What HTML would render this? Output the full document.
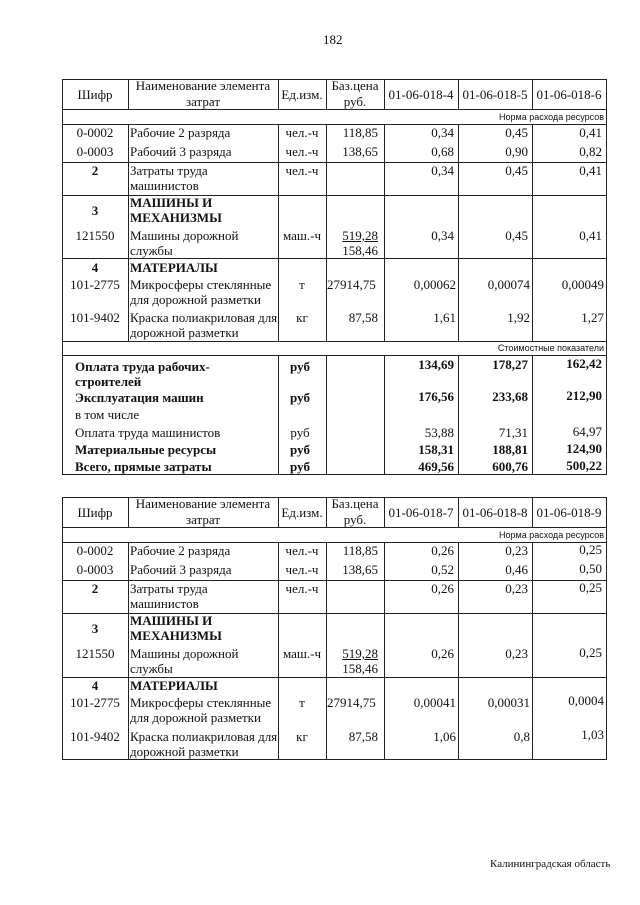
<!DOCTYPE html>
<html><head><meta charset="utf-8">
<style>
html,body{margin:0;padding:0;background:#fff;}
body{width:640px;height:905px;position:relative;overflow:hidden;font-family:"Liberation Serif","DejaVu Serif",serif;color:#111;}
.h{position:absolute;height:1px;background:#222;}
.v{position:absolute;width:1px;background:#222;}
.t{position:absolute;font-size:13px;line-height:16px;white-space:nowrap;}
.c{transform:translateX(-50%);}
.b{font-weight:bold;}
.s{position:absolute;font-family:"Liberation Sans",sans-serif;font-size:9px;line-height:12px;white-space:nowrap;}
.u{text-decoration:underline;}
</style></head><body>
<div class="t" style="left:323px;top:32px;font-size:13px">182</div>

<!-- TABLE 1 lines -->
<div class="h" style="left:62px;width:545px;top:79px"></div>
<div class="h" style="left:62px;width:545px;top:109px"></div>
<div class="h" style="left:62px;width:545px;top:124px"></div>
<div class="h" style="left:62px;width:545px;top:162px"></div>
<div class="h" style="left:62px;width:545px;top:195px"></div>
<div class="h" style="left:62px;width:545px;top:258px"></div>
<div class="h" style="left:62px;width:545px;top:341px"></div>
<div class="h" style="left:62px;width:545px;top:355px"></div>
<div class="h" style="left:62px;width:545px;top:474px"></div>
<div class="v" style="left:62px;top:79px;height:396px"></div>
<div class="v" style="left:606px;top:79px;height:396px"></div>
<div class="v" style="left:128px;top:79px;height:30px"></div>
<div class="v" style="left:128px;top:124px;height:217px"></div>
<div class="v" style="left:278px;top:79px;height:30px"></div><div class="v" style="left:278px;top:124px;height:217px"></div><div class="v" style="left:278px;top:355px;height:119px"></div>
<div class="v" style="left:326px;top:79px;height:30px"></div><div class="v" style="left:326px;top:124px;height:217px"></div><div class="v" style="left:326px;top:355px;height:119px"></div>
<div class="v" style="left:384px;top:79px;height:30px"></div><div class="v" style="left:384px;top:124px;height:217px"></div><div class="v" style="left:384px;top:355px;height:119px"></div>
<div class="v" style="left:458px;top:79px;height:30px"></div><div class="v" style="left:458px;top:124px;height:217px"></div><div class="v" style="left:458px;top:355px;height:119px"></div>
<div class="v" style="left:532px;top:79px;height:30px"></div><div class="v" style="left:532px;top:124px;height:217px"></div><div class="v" style="left:532px;top:355px;height:119px"></div>

<!-- TABLE 1 header -->
<div class="t c" style="left:95px;top:87px">Шифр</div>
<div class="t c" style="left:203px;top:78px">Наименование элемента</div>
<div class="t c" style="left:203px;top:94px">затрат</div>
<div class="t c" style="left:302px;top:87px">Ед.изм.</div>
<div class="t c" style="left:355px;top:78px">Баз.цена</div>
<div class="t c" style="left:355px;top:94px">руб.</div>
<div class="t c" style="left:421px;top:87px">01-06-018-4</div>
<div class="t c" style="left:495px;top:87px">01-06-018-5</div>
<div class="t c" style="left:569px;top:87px">01-06-018-6</div>
<div class="s" style="right:36px;top:111px">Норма расхода ресурсов</div>

<div class="t c" style="left:95px;top:125px">0-0002</div>
<div class="t" style="left:130px;top:125px">Рабочие 2 разряда</div>
<div class="t c" style="left:302px;top:125px">чел.-ч</div>
<div class="t" style="right:262px;top:125px">118,85</div>
<div class="t" style="right:186px;top:125px">0,34</div>
<div class="t" style="right:112px;top:125px">0,45</div>
<div class="t" style="right:38px;top:125px">0,41</div>
<div class="t c" style="left:95px;top:144px">0-0003</div>
<div class="t" style="left:130px;top:144px">Рабочий 3 разряда</div>
<div class="t c" style="left:302px;top:144px">чел.-ч</div>
<div class="t" style="right:262px;top:144px">138,65</div>
<div class="t" style="right:186px;top:144px">0,68</div>
<div class="t" style="right:112px;top:144px">0,90</div>
<div class="t" style="right:38px;top:144px">0,82</div>

<div class="t c b" style="left:95px;top:163px">2</div>
<div class="t" style="left:130px;top:163px">Затраты труда</div>
<div class="t" style="left:130px;top:178px">машинистов</div>
<div class="t c" style="left:302px;top:163px">чел.-ч</div>
<div class="t" style="right:186px;top:163px">0,34</div>
<div class="t" style="right:112px;top:163px">0,45</div>
<div class="t" style="right:38px;top:163px">0,41</div>

<div class="t c b" style="left:95px;top:203px">3</div>
<div class="t b" style="left:130px;top:195px">МАШИНЫ И</div>
<div class="t b" style="left:130px;top:210px">МЕХАНИЗМЫ</div>
<div class="t c" style="left:95px;top:228px">121550</div>
<div class="t" style="left:130px;top:228px">Машины дорожной</div>
<div class="t" style="left:130px;top:243px">службы</div>
<div class="t c" style="left:302px;top:228px">маш.-ч</div>
<div class="t u" style="right:262px;top:228px">519,28</div>
<div class="t" style="right:262px;top:243px">158,46</div>
<div class="t" style="right:186px;top:228px">0,34</div>
<div class="t" style="right:112px;top:228px">0,45</div>
<div class="t" style="right:38px;top:228px">0,41</div>

<div class="t c b" style="left:95px;top:260px">4</div>
<div class="t b" style="left:130px;top:260px">МАТЕРИАЛЫ</div>
<div class="t c" style="left:95px;top:277px">101-2775</div>
<div class="t" style="left:130px;top:277px">Микросферы стеклянные</div>
<div class="t" style="left:130px;top:292px">для дорожной разметки</div>
<div class="t c" style="left:302px;top:277px">т</div>
<div class="t" style="left:327px;top:277px">27914,75</div>
<div class="t" style="right:184px;top:277px">0,00062</div>
<div class="t" style="right:110px;top:277px">0,00074</div>
<div class="t" style="right:36px;top:277px">0,00049</div>
<div class="t c" style="left:95px;top:310px">101-9402</div>
<div class="t" style="left:130px;top:310px">Краска полиакриловая для</div>
<div class="t" style="left:130px;top:325px">дорожной разметки</div>
<div class="t c" style="left:302px;top:310px">кг</div>
<div class="t" style="right:262px;top:310px">87,58</div>
<div class="t" style="right:184px;top:310px">1,61</div>
<div class="t" style="right:110px;top:310px">1,92</div>
<div class="t" style="right:36px;top:310px">1,27</div>
<div class="s" style="right:36px;top:342px">Стоимостные показатели</div>

<div class="t b" style="left:75px;top:359px">Оплата труда рабочих-</div>
<div class="t b" style="left:75px;top:374px">строителей</div>
<div class="t b" style="left:75px;top:390px">Эксплуатация машин</div>
<div class="t" style="left:75px;top:407px">в том числе</div>
<div class="t" style="left:75px;top:425px">Оплата труда машинистов</div>
<div class="t b" style="left:75px;top:442px">Материальные ресурсы</div>
<div class="t b" style="left:75px;top:459px">Всего, прямые затраты</div>
<div class="t c b" style="left:300px;top:359px">руб</div>
<div class="t c b" style="left:300px;top:390px">руб</div>
<div class="t c" style="left:300px;top:425px">руб</div>
<div class="t c b" style="left:300px;top:442px">руб</div>
<div class="t c b" style="left:300px;top:459px">руб</div>
<div class="t b" style="right:186px;top:357px">134,69</div>
<div class="t b" style="right:112px;top:357px">178,27</div>
<div class="t b" style="right:38px;top:356px">162,42</div>
<div class="t b" style="right:186px;top:389px">176,56</div>
<div class="t b" style="right:112px;top:389px">233,68</div>
<div class="t b" style="right:38px;top:388px">212,90</div>
<div class="t" style="right:186px;top:425px">53,88</div>
<div class="t" style="right:112px;top:425px">71,31</div>
<div class="t" style="right:38px;top:424px">64,97</div>
<div class="t b" style="right:186px;top:442px">158,31</div>
<div class="t b" style="right:112px;top:442px">188,81</div>
<div class="t b" style="right:38px;top:441px">124,90</div>
<div class="t b" style="right:186px;top:459px">469,56</div>
<div class="t b" style="right:112px;top:459px">600,76</div>
<div class="t b" style="right:38px;top:458px">500,22</div>

<!-- TABLE 2 lines -->
<div class="h" style="left:62px;width:545px;top:497px"></div>
<div class="h" style="left:62px;width:545px;top:527px"></div>
<div class="h" style="left:62px;width:545px;top:542px"></div>
<div class="h" style="left:62px;width:545px;top:580px"></div>
<div class="h" style="left:62px;width:545px;top:613px"></div>
<div class="h" style="left:62px;width:545px;top:677px"></div>
<div class="h" style="left:62px;width:545px;top:759px"></div>
<div class="v" style="left:62px;top:497px;height:263px"></div>
<div class="v" style="left:606px;top:497px;height:263px"></div>
<div class="v" style="left:128px;top:497px;height:30px"></div><div class="v" style="left:128px;top:542px;height:217px"></div>
<div class="v" style="left:278px;top:497px;height:30px"></div><div class="v" style="left:278px;top:542px;height:217px"></div>
<div class="v" style="left:326px;top:497px;height:30px"></div><div class="v" style="left:326px;top:542px;height:217px"></div>
<div class="v" style="left:384px;top:497px;height:30px"></div><div class="v" style="left:384px;top:542px;height:217px"></div>
<div class="v" style="left:458px;top:497px;height:30px"></div><div class="v" style="left:458px;top:542px;height:217px"></div>
<div class="v" style="left:532px;top:497px;height:30px"></div><div class="v" style="left:532px;top:542px;height:217px"></div>

<!-- TABLE 2 content -->
<div class="t c" style="left:95px;top:505px">Шифр</div>
<div class="t c" style="left:203px;top:496px">Наименование элемента</div>
<div class="t c" style="left:203px;top:512px">затрат</div>
<div class="t c" style="left:302px;top:505px">Ед.изм.</div>
<div class="t c" style="left:355px;top:496px">Баз.цена</div>
<div class="t c" style="left:355px;top:512px">руб.</div>
<div class="t c" style="left:421px;top:505px">01-06-018-7</div>
<div class="t c" style="left:495px;top:505px">01-06-018-8</div>
<div class="t c" style="left:569px;top:505px">01-06-018-9</div>
<div class="s" style="right:36px;top:529px">Норма расхода ресурсов</div>

<div class="t c" style="left:95px;top:543px">0-0002</div>
<div class="t" style="left:130px;top:543px">Рабочие 2 разряда</div>
<div class="t c" style="left:302px;top:543px">чел.-ч</div>
<div class="t" style="right:262px;top:543px">118,85</div>
<div class="t" style="right:186px;top:543px">0,26</div>
<div class="t" style="right:112px;top:543px">0,23</div>
<div class="t" style="right:38px;top:542px">0,25</div>
<div class="t c" style="left:95px;top:562px">0-0003</div>
<div class="t" style="left:130px;top:562px">Рабочий 3 разряда</div>
<div class="t c" style="left:302px;top:562px">чел.-ч</div>
<div class="t" style="right:262px;top:562px">138,65</div>
<div class="t" style="right:186px;top:562px">0,52</div>
<div class="t" style="right:112px;top:562px">0,46</div>
<div class="t" style="right:38px;top:561px">0,50</div>

<div class="t c b" style="left:95px;top:581px">2</div>
<div class="t" style="left:130px;top:581px">Затраты труда</div>
<div class="t" style="left:130px;top:596px">машинистов</div>
<div class="t c" style="left:302px;top:581px">чел.-ч</div>
<div class="t" style="right:186px;top:581px">0,26</div>
<div class="t" style="right:112px;top:581px">0,23</div>
<div class="t" style="right:38px;top:580px">0,25</div>

<div class="t c b" style="left:95px;top:621px">3</div>
<div class="t b" style="left:130px;top:613px">МАШИНЫ И</div>
<div class="t b" style="left:130px;top:628px">МЕХАНИЗМЫ</div>
<div class="t c" style="left:95px;top:646px">121550</div>
<div class="t" style="left:130px;top:646px">Машины дорожной</div>
<div class="t" style="left:130px;top:661px">службы</div>
<div class="t c" style="left:302px;top:646px">маш.-ч</div>
<div class="t u" style="right:262px;top:646px">519,28</div>
<div class="t" style="right:262px;top:661px">158,46</div>
<div class="t" style="right:186px;top:646px">0,26</div>
<div class="t" style="right:112px;top:646px">0,23</div>
<div class="t" style="right:38px;top:645px">0,25</div>

<div class="t c b" style="left:95px;top:678px">4</div>
<div class="t b" style="left:130px;top:678px">МАТЕРИАЛЫ</div>
<div class="t c" style="left:95px;top:695px">101-2775</div>
<div class="t" style="left:130px;top:695px">Микросферы стеклянные</div>
<div class="t" style="left:130px;top:710px">для дорожной разметки</div>
<div class="t c" style="left:302px;top:695px">т</div>
<div class="t" style="left:327px;top:695px">27914,75</div>
<div class="t" style="right:184px;top:695px">0,00041</div>
<div class="t" style="right:110px;top:695px">0,00031</div>
<div class="t" style="right:36px;top:693px">0,0004</div>
<div class="t c" style="left:95px;top:729px">101-9402</div>
<div class="t" style="left:130px;top:729px">Краска полиакриловая для</div>
<div class="t" style="left:130px;top:744px">дорожной разметки</div>
<div class="t c" style="left:302px;top:729px">кг</div>
<div class="t" style="right:262px;top:729px">87,58</div>
<div class="t" style="right:184px;top:729px">1,06</div>
<div class="t" style="right:110px;top:729px">0,8</div>
<div class="t" style="right:36px;top:727px">1,03</div>

<div class="t" style="left:490px;top:856px;font-size:11px">Калининградская область</div>
</body></html>
